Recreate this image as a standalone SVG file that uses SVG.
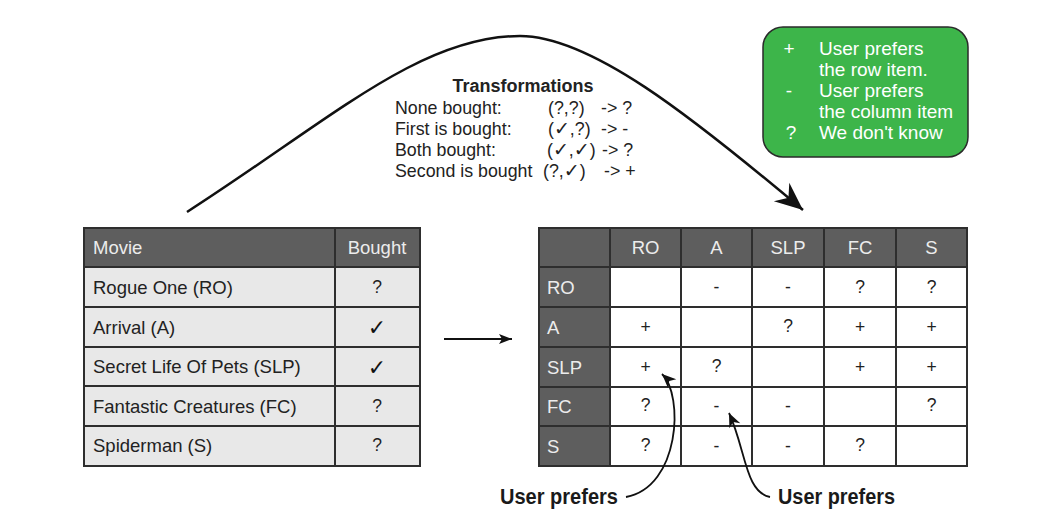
<svg xmlns="http://www.w3.org/2000/svg" width="1046" height="521" viewBox="0 0 1046 521">
<style>
text{font-family:"Liberation Sans",Arial,sans-serif;fill:#222}
.hd{fill:#5e5e5e}
.lt{fill:#e8e8e8}
.wt{fill:#ffffff}
.grid{stroke:#2e2e2e;stroke-width:2;fill:none}
.tb{font-size:18.5px}
.ht{font-size:18.5px;fill:#ececec}
.sym{font-size:17.5px;text-anchor:middle}
.chk{font-family:"DejaVu Sans",sans-serif;font-size:22px;text-anchor:middle;fill:#111}
.tr{font-size:17.8px}
.tck{font-family:"DejaVu Sans",sans-serif;font-size:19px}
.gb{font-size:19px;fill:#ffffff}
.lbl{font-family:"Liberation Sans Narrow","Liberation Sans",Arial,sans-serif;font-weight:bold;font-size:22px;fill:#1a1a1a}
.conn{fill:none;stroke:#111}
</style>
<defs>
<marker id="bigHead" viewBox="-30 -14 32 28" markerWidth="32" markerHeight="28" refX="0" refY="0" orient="auto" markerUnits="userSpaceOnUse">
<path d="M0,0 L-28,-12 L-19,0 L-28,12 Z" fill="#111"/>
</marker>
<marker id="smallHead" viewBox="-15 -7 16 14" markerWidth="16" markerHeight="14" refX="0" refY="0" orient="auto" markerUnits="userSpaceOnUse">
<path d="M0,0 L-14,-6 L-10,0 L-14,6 Z" fill="#111"/>
</marker>
<marker id="midHead" viewBox="-15 -7 16 14" markerWidth="16" markerHeight="14" refX="0" refY="0" orient="auto" markerUnits="userSpaceOnUse">
<path d="M0,0 L-13,-5 L-10,0 L-13,5 Z" fill="#111"/>
</marker>
</defs>

<g id="transformations">
<text x="523" y="92" font-size="18" font-weight="bold" text-anchor="middle">Transformations</text>
<text class="tr" x="395" y="114">None bought:</text>
<text class="tr" x="548" y="114">(?,?)</text>
<text class="tr" x="601" y="114">-&gt; ?</text>
<text class="tr" x="395" y="135">First is bought:</text>
<text class="tr" x="548" y="135">(<tspan class="tck">✓</tspan>,?)</text>
<text class="tr" x="601" y="135">-&gt; -</text>
<text class="tr" x="395" y="156">Both bought:</text>
<text class="tr" x="547" y="156">(<tspan class="tck">✓</tspan>,<tspan class="tck">✓</tspan>)</text>
<text class="tr" x="602" y="156">-&gt; ?</text>
<text class="tr" x="395" y="177">Second is bought</text>
<text class="tr" x="543" y="177">(?,<tspan class="tck">✓</tspan>)</text>
<text class="tr" x="604" y="177">-&gt; +</text>
</g>

<g id="legend">
<rect x="763" y="27" width="205" height="130" rx="20" ry="20" fill="#3db54a" stroke="#2a2a2a" stroke-width="1.5"/>
<text class="gb" x="789" y="55" text-anchor="middle">+</text>
<text class="gb" x="819" y="55">User prefers</text>
<text class="gb" x="819" y="76">the row item.</text>
<text class="gb" x="789" y="97" text-anchor="middle">-</text>
<text class="gb" x="819" y="97">User prefers</text>
<text class="gb" x="819" y="118">the column item</text>
<text class="gb" x="791" y="139" text-anchor="middle">?</text>
<text class="gb" x="819" y="139">We don't know</text>
</g>

<g id="movie-table">
<rect class="hd" x="84" y="228" width="336" height="39"/>
<rect class="lt" x="84" y="267" width="336" height="199"/>
<path class="grid" d="M84,228 H420 V466 H84 Z M84,267 H420 M84,307 H420 M84,347 H420 M84,386 H420 M84,426 H420 M335,228 V466"/>
<text class="ht" x="93" y="254">Movie</text>
<text class="ht" x="377" y="254" text-anchor="middle">Bought</text>
<text class="tb" x="93" y="294">Rogue One (RO)</text>
<text class="tb" x="93" y="334">Arrival (A)</text>
<text class="tb" x="93" y="373">Secret Life Of Pets (SLP)</text>
<text class="tb" x="93" y="413">Fantastic Creatures (FC)</text>
<text class="tb" x="93" y="452">Spiderman (S)</text>
<text class="sym" x="377" y="293">?</text>
<text class="chk" x="377" y="335">✓</text>
<text class="chk" x="377" y="375">✓</text>
<text class="sym" x="377" y="412">?</text>
<text class="sym" x="377" y="451">?</text>
</g>

<g id="preference-matrix">
<rect class="wt" x="539" y="228" width="428" height="238"/>
<rect class="hd" x="539" y="228" width="428" height="39"/>
<rect class="hd" x="539" y="228" width="71" height="238"/>
<path class="grid" d="M539,228 H967 V466 H539 Z M539,267 H967 M539,307 H967 M539,347 H967 M539,387 H967 M539,426 H967 M610,228 V466 M681,228 V466 M752,228 V466 M824,228 V466 M896,228 V466"/>
<text class="ht" x="645.5" y="254" text-anchor="middle">RO</text>
<text class="ht" x="716.5" y="254" text-anchor="middle">A</text>
<text class="ht" x="788" y="254" text-anchor="middle">SLP</text>
<text class="ht" x="860" y="254" text-anchor="middle">FC</text>
<text class="ht" x="931.5" y="254" text-anchor="middle">S</text>
<text class="ht" x="547" y="294">RO</text>
<text class="ht" x="547" y="334">A</text>
<text class="ht" x="547" y="374">SLP</text>
<text class="ht" x="547" y="413">FC</text>
<text class="ht" x="547" y="453">S</text>
<text class="sym" x="716.5" y="293">-</text>
<text class="sym" x="788" y="293">-</text>
<text class="sym" x="860" y="293">?</text>
<text class="sym" x="931.5" y="293">?</text>
<text class="sym" x="645.5" y="333">+</text>
<text class="sym" x="788" y="332">?</text>
<text class="sym" x="860" y="333">+</text>
<text class="sym" x="931.5" y="333">+</text>
<text class="sym" x="645.5" y="373">+</text>
<text class="sym" x="716.5" y="372">?</text>
<text class="sym" x="860" y="373">+</text>
<text class="sym" x="931.5" y="373">+</text>
<text class="sym" x="645.5" y="411">?</text>
<text class="sym" x="716.5" y="412">-</text>
<text class="sym" x="788" y="412">-</text>
<text class="sym" x="931.5" y="411">?</text>
<text class="sym" x="645.5" y="451">?</text>
<text class="sym" x="716.5" y="452">-</text>
<text class="sym" x="788" y="452">-</text>
<text class="sym" x="860" y="451">?</text>
</g>

<g id="label-row-pref">
<text class="lbl" x="500" y="504" textLength="118" lengthAdjust="spacingAndGlyphs">User prefers</text>
</g>
<g id="label-col-pref">
<text class="lbl" x="778" y="504" textLength="117" lengthAdjust="spacingAndGlyphs">User prefers</text>
</g>

<g id="connectors">
<path class="conn" d="M187,212 C330,120 420,36 520,36 C590,36 690,115 803,210" stroke-width="2.5" marker-end="url(#bigHead)"/>
<path class="conn" d="M444,339 L512,339" stroke-width="1.8" marker-end="url(#midHead)"/>
<path class="conn" d="M626,497 C680,487 684,395 662,374" stroke-width="1.8" marker-end="url(#smallHead)"/>
<path class="conn" d="M770,497 C745,492 746,450 729,413" stroke-width="1.8" marker-end="url(#smallHead)"/>
</g>
</svg>
